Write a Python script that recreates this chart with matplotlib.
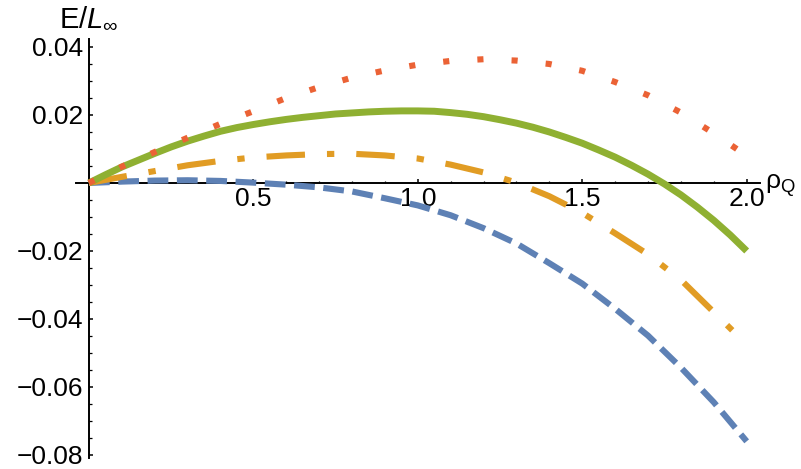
import numpy as np
import matplotlib
matplotlib.use("Agg")
import matplotlib.pyplot as plt
from matplotlib.ticker import FixedLocator

plt.rcParams['font.family'] = ['Liberation Sans', 'DejaVu Sans']
plt.rcParams['mathtext.fontset'] = 'custom'
plt.rcParams['mathtext.rm'] = 'Liberation Sans'
plt.rcParams['mathtext.it'] = 'Liberation Sans:italic'
plt.rcParams['mathtext.bf'] = 'Liberation Sans:bold'

# ---- data ----
rho = [0.0, 0.1, 0.2, 0.3, 0.4, 0.5, 0.6, 0.7, 0.8, 0.9, 1.0,
       1.1, 1.2, 1.3, 1.4, 1.5, 1.6, 1.7, 1.8, 1.9, 2.0]

e_blue = [0.0, 0.0004, 0.0007, 0.0008, 0.0006, 0.0001, -0.0005, -0.0013,
          -0.0025, -0.0045, -0.0066, -0.0095, -0.0133, -0.0178, -0.0236,
          -0.0296, -0.0370, -0.0449, -0.0543, -0.0645, -0.0760]
e_orange = [0.0, 0.0018, 0.0035, 0.0052, 0.0065, 0.0075, 0.0081, 0.0085,
            0.0086, 0.0081, 0.0072, 0.0054, 0.0031, 0.0001, -0.0039,
            -0.0088, -0.0148, -0.0210, -0.0285, -0.0380, -0.0475]
e_red = [0.0, 0.0048, 0.0091, 0.0133, 0.0174, 0.0211, 0.0250, 0.0282,
         0.0310, 0.0331, 0.0348, 0.0359, 0.0364, 0.0360, 0.0350, 0.0330,
         0.0297, 0.0258, 0.0207, 0.0146, 0.0080]

rho_fine = [0.00, 0.05, 0.10, 0.15, 0.20, 0.25, 0.30, 0.35, 0.40, 0.45,
            0.50, 0.55, 0.60, 0.65, 0.70, 0.75, 0.80, 0.85, 0.90, 0.95,
            1.00, 1.05, 1.10, 1.15, 1.20, 1.25, 1.30, 1.35, 1.40, 1.45,
            1.50, 1.55, 1.60, 1.65, 1.70, 1.75, 1.80, 1.85, 1.90, 1.95, 2.00]
e_green = [0.0, 0.0024, 0.0047, 0.0067, 0.0087, 0.0106, 0.0123, 0.0138,
           0.0152, 0.0163, 0.0172, 0.0180, 0.0187, 0.0193, 0.0198, 0.0203,
           0.0206, 0.0209, 0.0211, 0.0212, 0.0212, 0.0211, 0.0207, 0.0202,
           0.0195, 0.0186, 0.0176, 0.0164, 0.0150, 0.0134, 0.0117, 0.0097,
           0.0076, 0.0052, 0.0026, -0.0003, -0.0035, -0.0071, -0.0110,
           -0.0153, -0.0200]

x_major = [0.5, 1.0, 1.5, 2.0]
x_labels = ["0.5", "1.0", "1.5", "2.0"]
y_major = [-0.08, -0.06, -0.04, -0.02, 0.02, 0.04]
y_labels = ["\u22120.08", "\u22120.06", "\u22120.04", "\u22120.02", "0.02", "0.04"]

c_blue = "#5E81B5"
c_orange = "#E19C24"
c_green = "#8FB032"
c_red = "#EB6235"

fig = plt.figure(figsize=(8.01, 4.69), dpi=100)
ax = fig.add_axes([0.0946, 0.02345, 0.854, 0.8934])

lw = 4.4
ax.plot(rho, e_blue, color=c_blue, lw=lw, dashes=(3.4, 1.4),
        dash_capstyle='butt', solid_capstyle='butt', zorder=3)
ax.plot(rho, e_orange, color=c_orange, lw=lw, dashes=(6.3, 3.6, 1.2, 3.6),
        dash_capstyle='butt', zorder=3)
ax.plot(rho_fine, e_green, color=c_green, lw=5.0, solid_capstyle='butt',
        solid_joinstyle='round', zorder=3)
ax.plot(rho, e_red, color=c_red, lw=lw, dashes=(1.0, 4.6),
        dash_capstyle='butt', zorder=3)

ax.set_xlim(-0.04, 2.04)
ax.set_ylim(-0.0809, 0.04235)

for s in ['top', 'right']:
    ax.spines[s].set_visible(False)
ax.spines['left'].set_position(('data', 0))
ax.spines['bottom'].set_position(('data', 0))
for s in ['left', 'bottom']:
    ax.spines[s].set_linewidth(1.4)
    ax.spines[s].set_zorder(1)
ax.set_axisbelow(True)

ax.xaxis.set_major_locator(FixedLocator(x_major))
ax.set_xticklabels(x_labels)
ax.xaxis.set_minor_locator(FixedLocator([v / 10 for v in range(1, 20) if v % 5 != 0]))
ax.yaxis.set_major_locator(FixedLocator(y_major))
ax.set_yticklabels(y_labels)
ax.yaxis.set_minor_locator(FixedLocator([v * 0.005 for v in range(-16, 9) if v % 4 != 0]))

ax.tick_params(which='major', direction='in', length=3.2, width=1.1,
               labelsize=19, color='black')
ax.tick_params(which='minor', direction='in', length=1.8, width=0.9, color='black')
ax.tick_params(axis='x', which='major', pad=3)
ax.tick_params(axis='y', which='major', pad=4)

ax.text(0.0, 0.0443, r"E/$\mathit{L}_{\mathregular{\infty}}$", fontsize=21,
        ha='center', va='bottom')
ax.text(2.056, -0.0018, "\u03c1$_{\\mathrm{Q}}$", fontsize=19,
        ha='left', va='baseline')

fig.savefig("out.png", dpi=100)
